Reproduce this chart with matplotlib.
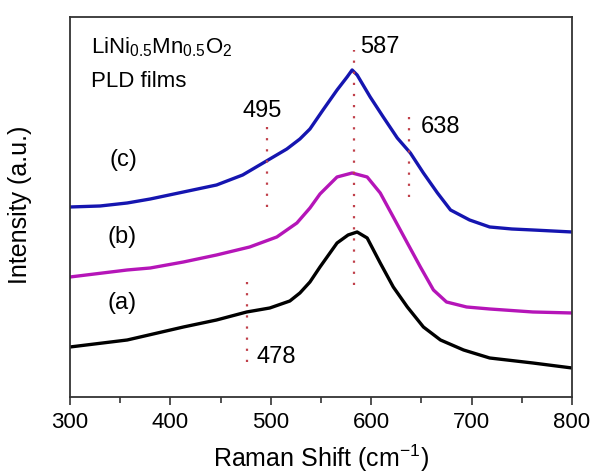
import matplotlib
matplotlib.use("Agg")
import matplotlib.pyplot as plt

plt.rcParams['font.family'] = ['Liberation Sans', 'DejaVu Sans']
plt.rcParams['mathtext.default'] = 'regular'

# Raman shift (cm-1) and intensity (a.u., offset traces)
shift_c = [300, 330, 357, 380, 413, 446, 472, 494, 516, 529, 539, 552, 566,
           576, 581, 586, 599, 612, 626, 639, 652, 666, 679, 698, 718, 740,
           761, 800]
int_c = [190, 191, 194, 198, 205, 212, 222, 235, 248, 258, 268, 287, 307,
         320, 327, 322, 300, 280, 259, 244, 224, 204, 187, 177, 170, 168,
         167, 165]

shift_b = [300, 357, 380, 413, 446, 479, 506, 526, 539, 549, 566, 581, 596,
           609, 622, 636, 649, 662, 675, 695, 718, 761, 800]
int_b = [120, 127, 129, 135, 142, 150, 160, 174, 189, 203, 220, 224, 220,
         204, 180, 154, 130, 107, 95, 90, 88, 85, 84]

shift_a = [300, 357, 413, 446, 476, 499, 519, 529, 539, 549, 566, 577, 586,
           596, 609, 622, 636, 652, 669, 692, 718, 761, 800]
int_a = [50, 57, 70, 77, 85, 89, 96, 104, 115, 130, 154, 162, 165,
         159, 134, 110, 90, 70, 57, 47, 39, 34, 29]

# peak markers: label, line position, line span
peak_labels = ['478', '495', '587', '638']
peak_x = [476, 496, 583, 638]
peak_lo = [35, 190, 112, 200]
peak_hi = [120, 274, 347, 282]

fig = plt.figure(figsize=(5.9, 4.73), dpi=100)
ax = fig.add_axes([0.1186, 0.1607, 0.8509, 0.8034])

ax.plot(shift_a, int_a, color='black', lw=2.4)
ax.plot(shift_b, int_b, color='#b515b8', lw=2.4)
ax.plot(shift_c, int_c, color='#1515b0', lw=2.4)

for x, lo, hi in zip(peak_x, peak_lo, peak_hi):
    ax.plot([x, x], [lo, hi], color='#c0404a', lw=1.6, ls=(0, (1, 4)))

fs = 17
ax.text(486, 34, peak_labels[0], fontsize=fs, va='baseline')
ax.text(491, 280, peak_labels[1], fontsize=fs, ha='center', va='baseline')
ax.text(589, 344, peak_labels[2], fontsize=fs, va='baseline')
ax.text(649, 264, peak_labels[3], fontsize=fs, va='baseline')

ax.text(353, 237, '(c)', fontsize=fs, ha='center', va='center')
ax.text(352, 160, '(b)', fontsize=fs, ha='center', va='center')
ax.text(352, 94, '(a)', fontsize=fs, ha='center', va='center')

ax.text(321, 344, r'LiNi$_{0.5}$Mn$_{0.5}$O$_2$', fontsize=16, va='baseline')
ax.text(321, 310, 'PLD films', fontsize=16, va='baseline')

ax.set_xlim(300, 800)
ax.set_ylim(0, 380)
ax.set_xticks([300, 400, 500, 600, 700, 800])
ax.set_xticks(range(350, 800, 100), minor=True)
ax.set_yticks([])
ax.tick_params(axis='x', which='major', direction='out', length=6, width=1.2,
               labelsize=16, pad=5, color='#333333')
ax.tick_params(axis='x', which='minor', direction='out', length=4, width=1.2,
               color='#333333')
for s in ax.spines.values():
    s.set_color('#333333')
    s.set_linewidth(1.3)

fig.text(20 / 590, 1 - 205 / 473, 'Intensity (a.u.)', rotation=90,
         ha='center', va='center', fontsize=18)
fig.text(321 / 590, 1 - 458 / 473, 'Raman Shift (cm$^{-1}$)',
         ha='center', va='center', fontsize=18)

fig.savefig('out.png', dpi=100)
